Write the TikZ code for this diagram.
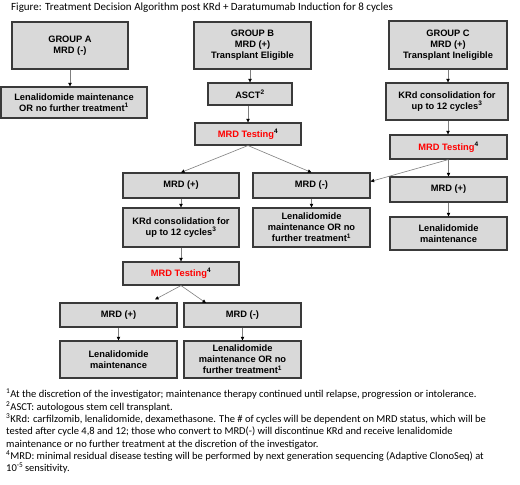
\documentclass[tikz,border=0pt]{standalone}
\usepackage{fontspec}
\setmainfont{Carlito}
\newfontfamily\boxfont{Liberation Sans}
\usetikzlibrary{arrows.meta}
\definecolor{boxfill}{HTML}{D9D9D9}
\definecolor{boxline}{HTML}{3A3A3A}
\definecolor{arrline}{HTML}{7F7F7F}
\definecolor{mrdred}{HTML}{FF0000}
\tikzset{
  bx/.style={draw=boxline, line width=1.1pt, fill=boxfill, align=center,
    inner sep=0pt, font=\boxfont\bfseries\fontsize{9.3}{11}\selectfont},
  arr/.style={draw=arrline, line width=0.6pt,
    -{Triangle[length=3.6pt,width=3.4pt,color=black]}},
}
\newcommand{\bxs}[1]{\textsuperscript{#1}}
\newcommand{\mrdt}{\textcolor{mrdred}{MRD Testing}\bxs{4}}
\begin{document}
\begin{tikzpicture}[x=1pt,y=-1pt]
\useasboundingbox[fill=white] (0,0) rectangle (520,485);
\node[anchor=base west, font=\fontsize{11}{13}\selectfont, inner sep=0pt] (title) at (11,10.5)
  {Figure: Treatment Decision Algorithm post KRd + Daratumumab Induction for 8 cycles};
% Group A
\node[bx, minimum width=116pt, minimum height=47pt] (gA) at (70,45.5) {GROUP A\\MRD (-)};
\node[bx, minimum width=146pt, minimum height=31pt] (lenA) at (74,102.5) {Lenalidomide maintenance\\OR no further treatment\bxs{1}};
% Group B
\node[bx, minimum width=117pt, minimum height=47pt] (gB) at (252.5,45.5) {GROUP B\\MRD (+)\\Transplant Eligible};
\node[bx, minimum width=84pt, minimum height=22pt] (asct) at (250,94) {ASCT\bxs{2}};
\node[bx, minimum width=106pt, minimum height=22pt] (mtB) at (248,134) {\mrdt};
\node[bx, minimum width=116pt, minimum height=25pt] (mpB) at (181,185.5) {MRD (+)};
\node[bx, minimum width=117pt, minimum height=25pt] (mmB) at (311.5,185.5) {MRD (-)};
\node[bx, minimum width=116pt, minimum height=39pt] (krdB) at (181,227.5) {KRd consolidation for\\up to 12 cycles\bxs{3}};
\node[bx, minimum width=117pt, minimum height=39pt] (lenB) at (311.5,227.5) {Lenalidomide\\maintenance OR no\\further treatment\bxs{1}};
\node[bx, minimum width=116pt, minimum height=23pt] (mtL) at (181,273.5) {\mrdt};
\node[bx, minimum width=117pt, minimum height=24pt] (mpL) at (118.5,315) {MRD (+)};
\node[bx, minimum width=117pt, minimum height=24pt] (mmL) at (242.5,315) {MRD (-)};
\node[bx, minimum width=117pt, minimum height=37pt] (lenL1) at (118.5,359.5) {Lenalidomide\\maintenance};
\node[bx, minimum width=117pt, minimum height=37pt] (lenL2) at (242.5,359.5) {Lenalidomide\\maintenance OR no\\further treatment\bxs{1}};
% Group C
\node[bx, minimum width=118pt, minimum height=48pt] (gC) at (448,45) {GROUP C\\MRD (+)\\Transplant Ineligible};
\node[bx, minimum width=122pt, minimum height=37pt] (krdC) at (447,101.5) {KRd consolidation for\\up to 12 cycles\bxs{3}};
\node[bx, minimum width=117pt, minimum height=24pt] (mtC) at (448.5,147) {\mrdt};
\node[bx, minimum width=117pt, minimum height=25pt] (mpC) at (448.5,189.5) {MRD (+)};
\node[bx, minimum width=117pt, minimum height=33pt] (lenC) at (448.5,233.5) {Lenalidomide\\maintenance};
% connectors
\coordinate (tipL) at (155,299.5);
\coordinate (tipR) at (206,303);
\draw[arr] (gA.south) -- (gA.south |- lenA.north);
\draw[arr] (asct.north |- gB.south) -- (asct.north);
\draw[arr] (mtB.north |- asct.south) -- (mtB.north);
\draw[arr] (mtB.south) -- (mpB.north);
\draw[arr] (mtB.south) -- (mmB.north);
\draw[arr] (mtC.south) -- ([yshift=4pt]mmB.east);
\draw[arr] (gC.south) -- (gC.south |- krdC.north);
\draw[arr] (gC.south |- krdC.south) -- (gC.south |- mtC.north);
\draw[arr] (mtC.south) -- (mpC.north);
\draw[arr] (mpC.south) -- (lenC.north);
\draw[arr] (mpB.south) -- (krdB.north);
\draw[arr] (mmB.south) -- (lenB.north);
\draw[arr] (krdB.south) -- (mtL.north);
\draw[arr] (mtL.south) -- (tipL);
\draw[arr] (mtL.south) -- (tipR);
\draw[arr] (mpL.south) -- (lenL1.north);
\draw[arr] (mmL.south) -- (lenL2.north);
% footnotes
\node[anchor=north west, align=left, inner sep=0pt, font=\fontsize{10.5}{12.3}\selectfont] (notes) at (6,389)
{\textsuperscript{1}At the discretion of the investigator; maintenance therapy continued until relapse, progression or intolerance.\\
\textsuperscript{2}ASCT: autologous stem cell transplant.\\
\textsuperscript{3}KRd: carfilzomib, lenalidomide, dexamethasone. The \# of cycles will be dependent on MRD status, which will be\\
tested after cycle 4,8 and 12; those who convert to MRD(-) will discontinue KRd and receive lenalidomide\\
maintenance or no further treatment at the discretion of the investigator.\\
\textsuperscript{4}MRD: minimal residual disease testing will be performed by next generation sequencing (Adaptive ClonoSeq) at\\
10\textsuperscript{-5}\,sensitivity.};
\end{tikzpicture}
\end{document}
